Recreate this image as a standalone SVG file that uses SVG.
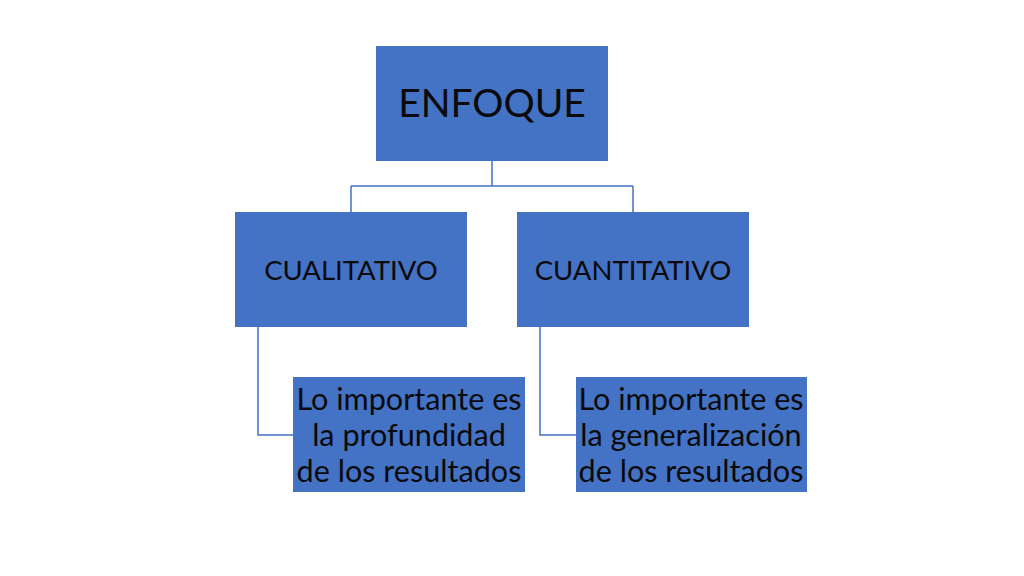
<svg xmlns="http://www.w3.org/2000/svg" width="1024" height="576" viewBox="0 0 1024 576">
<style>
.box{fill:#4472C4;}
.line{fill:none;stroke:#4472C4;stroke-width:1.5;}
text{font-family:Lato,"Open Sans","Liberation Sans",sans-serif;fill:#0a0a0a;text-anchor:middle;}
.t1{font-size:39px;}
.t2{font-size:27.5px;}
.t3{font-size:30.6px;}
</style>
<rect width="1024" height="576" fill="#fff"/>
<g id="connectors">
<path class="line" d="M492,161 V186 M351,186 H633 M351,186 V212 M633,186 V212"/>
<path class="line" d="M258,327 V435 H293"/>
<path class="line" d="M540,327 V435 H576"/>
</g>
<g id="enfoque">
<rect class="box" x="376" y="46" width="232" height="115"/>
<text class="t1" x="492" y="117">ENFOQUE</text>
</g>
<g id="cualitativo">
<rect class="box" x="235" y="212" width="232" height="115"/>
<text class="t2" x="351" y="280">CUALITATIVO</text>
</g>
<g id="cuantitativo">
<rect class="box" x="517" y="212" width="232" height="115"/>
<text class="t2" x="633" y="280">CUANTITATIVO</text>
</g>
<g id="profundidad">
<rect class="box" x="293" y="377" width="232" height="115"/>
<text class="t3" x="409"><tspan x="409" y="410">Lo importante es</tspan><tspan x="409" y="446">la profundidad</tspan><tspan x="409" y="482">de los resultados</tspan></text>
</g>
<g id="generalizacion">
<rect class="box" x="576" y="377" width="231" height="115"/>
<text class="t3" x="691"><tspan x="691" y="410">Lo importante es</tspan><tspan x="691" y="446">la generalización</tspan><tspan x="691" y="482">de los resultados</tspan></text>
</g>
</svg>
